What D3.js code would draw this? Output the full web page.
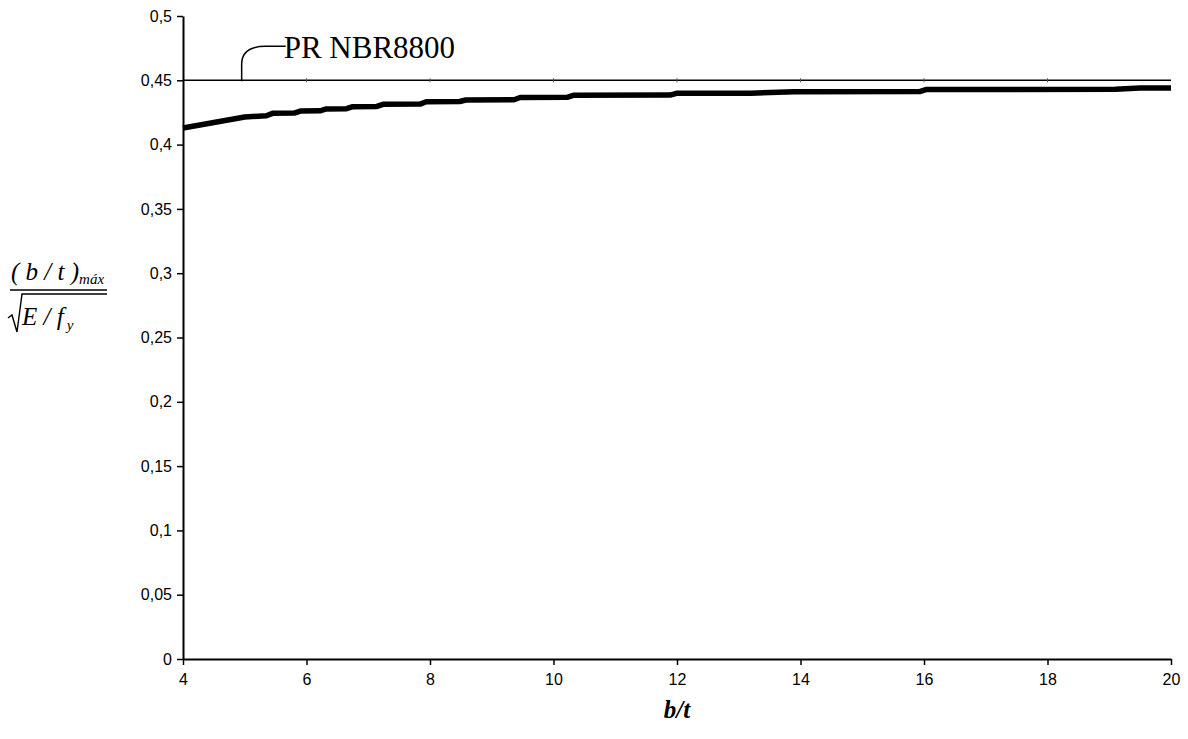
<!DOCTYPE html>
<html>
<head>
<meta charset="utf-8">
<script src="https://cdn.jsdelivr.net/npm/d3@7"></script>
<style>
  html, body { margin: 0; padding: 0; background: #fff; }
  svg { display: block; }
</style>
</head>
<body>
<svg id="chart" width="1188" height="739"></svg>
<script>
// ---- data ----
const btValues = [4.0, 5.0, 5.35, 5.45, 5.8, 5.9, 6.22, 6.32, 6.65, 6.75, 7.14, 7.24, 7.84, 7.94, 8.48, 8.58, 9.36, 9.46, 10.22, 10.32, 11.89, 11.99, 13.2, 13.9, 15.93, 16.03, 19.1, 19.5, 20.0];
const ratioValues = [0.4129, 0.4215, 0.4224, 0.4243, 0.4245, 0.4261, 0.4263, 0.4277, 0.4279, 0.4295, 0.4297, 0.4313, 0.4315, 0.4333, 0.4335, 0.4347, 0.4349, 0.4366, 0.4368, 0.4383, 0.4385, 0.4399, 0.4400, 0.4411, 0.4412, 0.4428, 0.4430, 0.4440, 0.4440];
const limitValue = 0.45;
const limitMarkerX = [6, 8, 10, 12, 14, 16, 18];
const limitLabel = "PR NBR8800";
const limitLabelX = 4.95;
const xTicks = [4, 6, 8, 10, 12, 14, 16, 18, 20];
const yTicks = [0, 0.05, 0.1, 0.15, 0.2, 0.25, 0.3, 0.35, 0.4, 0.45, 0.5];
const xTitle = "b/t";

(function () {
// ---- layout ----
const svg = d3.select("#chart");
const mLeft = 183, mRight = 1171, mTop = 16, mBottom = 659;
const x = d3.scaleLinear().domain([4, 20]).range([mLeft, mRight]);
const y = d3.scaleLinear().domain([0, 0.5]).range([mBottom, mTop]);
const fmt = v => String(+v.toFixed(2)).replace(".", ",");

// y axis
const yAxis = svg.append("g").attr("transform", `translate(${mLeft},0)`)
  .call(d3.axisLeft(y).tickValues(yTicks).tickFormat(fmt).tickSize(6).tickSizeOuter(0).tickPadding(5));
yAxis.select(".domain").attr("stroke", "#000").attr("stroke-width", 2);
yAxis.selectAll(".tick line").attr("stroke", "#000").attr("stroke-width", 1.5);
yAxis.selectAll(".tick text").attr("font-family", "Liberation Sans, Arial, sans-serif").attr("font-size", 16).attr("fill", "#000");

// x axis
const xAxis = svg.append("g").attr("transform", `translate(0,${mBottom})`)
  .call(d3.axisBottom(x).tickValues(xTicks).tickFormat(d3.format("d")).tickSize(6).tickSizeOuter(0).tickPadding(9));
xAxis.select(".domain").attr("stroke", "#000").attr("stroke-width", 2);
xAxis.selectAll(".tick line").attr("stroke", "#000").attr("stroke-width", 1.5);
xAxis.selectAll(".tick text").attr("font-family", "Liberation Sans, Arial, sans-serif").attr("font-size", 16).attr("fill", "#000");

// limit line
svg.append("line")
  .attr("x1", x(4)).attr("x2", x(20))
  .attr("y1", y(limitValue)).attr("y2", y(limitValue))
  .attr("stroke", "#000").attr("stroke-width", 1.5);
svg.selectAll(".lm").data(limitMarkerX).enter().append("line")
  .attr("x1", d => x(d)).attr("x2", d => x(d))
  .attr("y1", y(limitValue) - 2).attr("y2", y(limitValue) + 2)
  .attr("stroke", "#555").attr("stroke-width", 1);

// curve
const pts = btValues.map((b, i) => [b, ratioValues[i]]);
svg.append("path").datum(pts)
  .attr("d", d3.line().x(d => x(d[0])).y(d => y(d[1])))
  .attr("fill", "none").attr("stroke", "#000").attr("stroke-width", 5.5)
  .attr("stroke-linejoin", "round");

// annotation leader + label
const ax = x(limitLabelX), ay = y(limitValue);
svg.append("path")
  .attr("d", `M${ax},${ay + 1} L${ax},${ay - 16} Q${ax},${ay - 34} ${ax + 24},${ay - 34} L${ax + 44},${ay - 34}`)
  .attr("fill", "none").attr("stroke", "#000").attr("stroke-width", 1.5);
svg.append("text")
  .attr("x", ax + 42).attr("y", ay - 22)
  .attr("font-family", "Liberation Serif, Times New Roman, serif")
  .attr("font-size", 31).attr("fill", "#000")
  .text(limitLabel);

// x title
svg.append("text")
  .attr("x", x(12)).attr("y", 718)
  .attr("text-anchor", "middle")
  .attr("font-family", "Liberation Serif, Times New Roman, serif")
  .attr("font-size", 25).attr("font-weight", "bold").attr("font-style", "italic")
  .text(xTitle);

// y title: (b/t)_máx / sqrt(E/f_y)
const yt = svg.append("g").attr("font-family", "Liberation Serif, Times New Roman, serif").attr("fill", "#000");
const num = yt.append("text").attr("x", 11).attr("y", 280).attr("font-size", 25).attr("font-style", "italic");
num.append("tspan").text("( b / t )");
num.append("tspan").attr("font-size", 15).attr("dy", 4).text("máx");
yt.append("line").attr("x1", 10).attr("x2", 107).attr("y1", 290).attr("y2", 290).attr("stroke", "#000").attr("stroke-width", 1.3);
// radical sign
yt.append("path")
  .attr("d", "M8,318 L12,315 L17,332 L22,294 L107,294")
  .attr("fill", "none").attr("stroke", "#000").attr("stroke-width", 1.4);
const den = yt.append("text").attr("x", 22).attr("y", 325).attr("font-size", 25).attr("font-style", "italic");
den.append("tspan").text("E / f");
den.append("tspan").attr("font-size", 15).attr("dy", 5).attr("dx", 3).text("y");
})();
</script>
</body>
</html>
